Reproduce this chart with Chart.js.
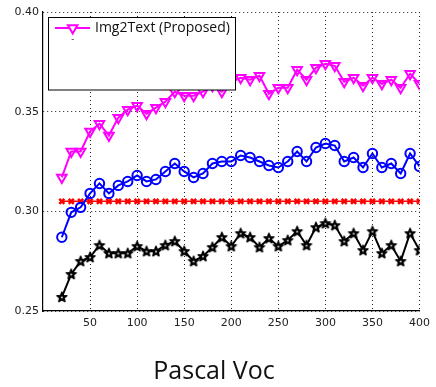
<!DOCTYPE html>
<html><head><meta charset="utf-8">
<script src="https://cdn.jsdelivr.net/npm/chart.js@4.4.0/dist/chart.umd.min.js"></script>
<style>html,body{margin:0;padding:0;background:#fff}#wrap{width:436px;height:387px;position:relative}</style>
</head><body><div id="wrap"><canvas id="c"></canvas></div>
<script>
const chartTitle = "Pascal Voc";
const legendLabel = "Img2Text (Proposed)";
const xValues = [20,30,40,50,60,70,80,90,100,110,120,130,140,150,160,170,180,190,200,210,220,230,240,250,260,270,280,290,300,310,320,330,340,350,360,370,380,390,400];
const xTicks = [50,100,150,200,250,300,350,400];
const yTicks = [0.25,0.30,0.35,0.40];
const img2text = [0.317,0.330,0.330,0.340,0.344,0.338,0.347,0.351,0.353,0.349,0.352,0.355,0.360,0.358,0.358,0.360,0.363,0.360,0.365,0.367,0.366,0.368,0.359,0.362,0.362,0.371,0.366,0.372,0.374,0.373,0.365,0.367,0.363,0.367,0.364,0.366,0.362,0.369,0.364];
const blueSeries = [0.287,0.2995,0.302,0.309,0.314,0.309,0.313,0.315,0.318,0.315,0.316,0.320,0.324,0.320,0.317,0.319,0.324,0.325,0.325,0.328,0.327,0.325,0.323,0.322,0.325,0.330,0.325,0.332,0.334,0.333,0.325,0.327,0.322,0.329,0.322,0.324,0.319,0.329,0.3225];
const redSeries = [0.305,0.305,0.305,0.305,0.305,0.305,0.305,0.305,0.305,0.305,0.305,0.305,0.305,0.305,0.305,0.305,0.305,0.305,0.305,0.305,0.305,0.305,0.305,0.305,0.305,0.305,0.305,0.305,0.305,0.305,0.305,0.305,0.305,0.305,0.305,0.305,0.305,0.305,0.305];
const blackSeries = [0.257,0.2685,0.275,0.277,0.283,0.279,0.279,0.279,0.2825,0.280,0.280,0.283,0.285,0.280,0.275,0.2775,0.282,0.287,0.2825,0.289,0.287,0.282,0.2865,0.2825,0.2855,0.290,0.283,0.292,0.294,0.293,0.285,0.289,0.2805,0.290,0.279,0.283,0.275,0.289,0.2805];

function pts(arr){ return xValues.map((x,i)=>({x:x,y:arr[i]})); }

// pentagram marker
const star = document.createElement('canvas');
star.width = 14; star.height = 14;
(function(){
  const c = star.getContext('2d');
  c.beginPath();
  for (let i=0;i<10;i++){
    const r = i%2===0 ? 5.2 : 2.3;
    const a = -Math.PI/2 + i*Math.PI/5;
    const px = 7 + r*Math.cos(a), py = 7.3 + r*Math.sin(a);
    if(i===0) c.moveTo(px,py); else c.lineTo(px,py);
  }
  c.closePath();
  c.fillStyle='#000'; c.fill();
  c.lineWidth = 1.5; c.lineJoin='round'; c.strokeStyle = '#000';
  c.stroke();
  c.fillStyle='#fff';
  c.beginPath(); c.arc(7,7.4,0.9,0,Math.PI*2); c.fill();
})();

const overlay = {
  id:'overlay',
  afterDraw(chart){
    const ctx = chart.ctx;
    ctx.save();
    // legend box
    ctx.fillStyle='#fff';
    ctx.fillRect(48.5,17.5,187,72.5);
    ctx.strokeStyle='#000'; ctx.lineWidth=1;
    ctx.strokeRect(48.5,17.5,187,72.5);
    ctx.strokeStyle='#ff00ff'; ctx.lineWidth=2;
    ctx.beginPath(); ctx.moveTo(55,28); ctx.lineTo(90,28); ctx.stroke();
    const r=5.5, cx=72.7, cy=28;
    ctx.beginPath();
    for(let k=0;k<3;k++){ const a=Math.PI+k*2*Math.PI/3; const px=cx+Math.sin(a)*r, py=cy-Math.cos(a)*r; if(k===0)ctx.moveTo(px,py); else ctx.lineTo(px,py);} 
    ctx.closePath(); ctx.fillStyle='#fff'; ctx.fill(); ctx.stroke();
    ctx.fillStyle='#111'; ctx.font='14px "Open Sans"'; ctx.textBaseline='middle'; ctx.textAlign='left';
    ctx.fillText(legendLabel,95,28.5);
    ctx.font='9px "Open Sans"'; ctx.textAlign='center';
    ctx.fillText('-',72.7,39.5);
    // title
    ctx.font='25px "Open Sans"'; ctx.textAlign='center'; ctx.textBaseline='alphabetic'; ctx.fillStyle='#111';
    ctx.fillText(chartTitle,214,379);
    ctx.restore();
  }
};

new Chart(document.getElementById('c'),{
  type:'line',
  data:{datasets:[
    {label:legendLabel,data:pts(img2text),borderColor:'#ff00ff',borderWidth:2,pointStyle:'triangle',rotation:180,pointRadius:5.5,pointBorderWidth:2,pointBackgroundColor:'rgba(0,0,0,0)',pointBorderColor:'#ff00ff',tension:0},
    {label:'Baseline A',data:pts(blueSeries),borderColor:'#0000ff',borderWidth:2,pointStyle:'circle',pointRadius:4.7,pointBorderWidth:2,pointBackgroundColor:'rgba(0,0,0,0)',pointBorderColor:'#0000ff',tension:0},
    {label:'Baseline B',data:pts(redSeries),borderColor:'#ff0000',borderWidth:1.5,pointStyle:'crossRot',pointRadius:3.6,pointBorderWidth:2.5,pointBorderColor:'#ff0000',tension:0},
    {label:'Baseline C',data:pts(blackSeries),borderColor:'#000',borderWidth:2,pointStyle:star,pointRadius:6,tension:0}
  ]},
  options:{
    responsive:true,maintainAspectRatio:false,animation:false,
    layout:{padding:{left:0,right:13,top:12,bottom:0}},
    plugins:{legend:{display:false},tooltip:{enabled:false}},
    scales:{
      x:{type:'linear',min:0,max:400,
        afterBuildTicks:(s)=>{s.ticks=xTicks.map(v=>({value:v}));},
        afterFit:(s)=>{s.height=76;},
        grid:{color:'#222',lineWidth:1,drawTicks:false},
        border:{display:true,color:'#000',width:1.2,dash:[1,3]},
        ticks:{padding:6,color:'#222',font:{family:'DejaVu Sans',size:11},maxRotation:0,autoSkip:false}
      },
      y:{min:0.25,max:0.40,
        afterBuildTicks:(s)=>{s.ticks=yTicks.map(v=>({value:v}));},
        afterFit:(s)=>{s.width=43;},
        grid:{color:'#222',lineWidth:1,drawTicks:false},
        border:{display:true,color:'#000',width:1.2,dash:[1,3]},
        ticks:{padding:4,color:'#222',font:{family:'DejaVu Sans',size:11},callback:(v)=>Number(v).toFixed(2)}
      }
    }
  },
  plugins:[overlay]
});
</script></body></html>
